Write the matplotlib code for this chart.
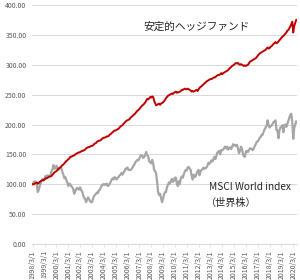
import matplotlib
matplotlib.use("Agg")
import matplotlib.pyplot as plt
import numpy as np

plt.rcParams['font.family'] = ['Noto Sans CJK JP', 'DejaVu Sans']

# Monthly data from 1998/3 to 2020/6
hedge = [
    100, 100, 101, 102, 103, 101, 102, 104, 105, 106, 107, 107,
    108, 110, 110, 111, 112, 113, 113, 114, 116, 118, 120, 121,
    122, 124, 126, 127, 128, 130, 132, 133, 135, 137, 139, 140,
    142, 143, 146, 146, 147, 148, 148, 150, 151, 152, 153, 153,
    154, 155, 156, 156, 157, 158, 160, 161, 162, 162, 163, 164,
    164, 165, 167, 168, 169, 171, 172, 173, 173, 174, 176, 177,
    178, 178, 179, 180, 180, 181, 183, 184, 186, 187, 189, 190,
    190, 191, 192, 193, 195, 197, 198, 199, 201, 203, 205, 206,
    207, 208, 209, 211, 213, 214, 216, 217, 219, 221, 223, 224,
    226, 228, 230, 232, 233, 235, 237, 240, 243, 242, 244, 246,
    245, 247, 246, 240, 236, 232, 233, 234, 235, 233, 235, 236,
    237, 239, 241, 244, 246, 248, 249, 250, 251, 252, 251, 253,
    254, 255, 253, 254, 254, 255, 256, 258, 258, 259, 260, 259,
    259, 260, 259, 258, 257, 255, 256, 255, 256, 257, 258, 256,
    259, 261, 263, 264, 266, 267, 269, 270, 272, 273, 274, 275,
    276, 276, 277, 278, 279, 279, 281, 282, 283, 283, 284, 286,
    284, 286, 287, 288, 289, 290, 291, 293, 295, 296, 298, 299,
    300, 302, 303, 302, 303, 301, 300, 301, 300, 299, 298, 299,
    298, 299, 300, 302, 305, 306, 307, 308, 309, 310, 311, 313,
    315, 317, 319, 320, 321, 322, 323, 324, 325, 327, 329, 327,
    328, 330, 331, 333, 335, 336, 338, 336, 337, 339, 341, 343,
    345, 347, 348, 350, 352, 354, 357, 358, 361, 364, 368, 372,
    354, 365, 370, 375,
]

msci = [
    100, 104, 105, 103, 101, 87, 90, 97, 102, 106, 109, 106,
    110, 114, 110, 115, 114, 113, 116, 122, 125, 132, 126, 127,
    131, 127, 124, 127, 129, 126, 120, 116, 110, 112, 107, 103,
    97, 101, 100, 97, 95, 92, 84, 88, 92, 94, 92, 91,
    95, 90, 88, 82, 77, 76, 70, 74, 78, 75, 72, 70,
    70, 75, 80, 82, 84, 86, 85, 90, 91, 95, 98, 100,
    99, 100, 99, 101, 97, 98, 101, 104, 108, 110, 108, 112,
    110, 108, 111, 112, 115, 116, 119, 116, 120, 122, 126, 126,
    128, 124, 124, 124, 125, 128, 131, 133, 137, 139, 141, 140,
    143, 147, 149, 147, 144, 146, 150, 154, 148, 147, 138, 137,
    135, 141, 135, 124, 122, 118, 104, 87, 82, 84, 77, 70,
    75, 83, 87, 87, 95, 99, 103, 101, 105, 109, 104, 106,
    111, 111, 101, 97, 105, 100, 110, 113, 111, 116, 121, 124,
    123, 128, 129, 126, 124, 114, 108, 116, 112, 113, 118, 122,
    124, 115, 121, 124, 125, 128, 126, 127, 128, 131, 136, 134,
    137, 140, 138, 141, 146, 142, 147, 153, 154, 156, 150, 157,
    157, 158, 161, 163, 160, 163, 158, 160, 162, 159, 162, 167,
    165, 166, 164, 166, 159, 152, 156, 163, 160, 150, 147, 146,
    155, 156, 154, 157, 160, 160, 159, 157, 160, 164, 167, 171,
    172, 174, 178, 179, 183, 183, 188, 192, 195, 198, 207, 199,
    195, 197, 198, 201, 204, 205, 207, 191, 190, 177, 190, 195,
    196, 199, 187, 199, 200, 196, 201, 206, 211, 216, 218, 204,
    176, 194, 200, 205,
]

tick_labels = [f"{y}/3/1" for y in range(1998, 2021)]
y_ticks = [0, 50, 100, 150, 200, 250, 300, 350, 400]

fig = plt.figure(figsize=(3.0, 2.8), dpi=100)
ax = fig.add_axes([32/300, 36/280, 265/300, 239/280])

x = np.arange(len(hedge))
ax.plot(x, msci, color='#a6a6a6', lw=1.6, solid_joinstyle='round', zorder=3)
ax.plot(x, hedge, color='#c00000', lw=1.4, solid_joinstyle='round', zorder=4)

ax.set_ylim(0, 400)
ax.set_xlim(-0.8, 267.8)
ax.set_yticks(y_ticks)
ax.set_yticklabels([f"{v:.2f}" for v in y_ticks])
ax.set_xticks(np.arange(0, len(hedge), 12))
ax.set_xticklabels(tick_labels, rotation=90)
ax.tick_params(axis='y', length=0, labelsize=5, colors='#595959', pad=4)
ax.tick_params(axis='x', length=2.5, width=0.5, color='#d9d9d9', labelsize=5, labelcolor='#595959', pad=2)
ax.grid(axis='y', color='#d9d9d9', lw=0.7)
ax.set_axisbelow(True)
for s in ['top', 'right', 'left']:
    ax.spines[s].set_visible(False)
ax.spines['bottom'].set_color('#d9d9d9')
ax.spines['bottom'].set_linewidth(0.7)

fig.text(143/300, 1 - 27/280, '安定的ヘッジファンド', fontsize=7.7, color='#262626', va='center', ha='left')
fig.text(209/300, 1 - 187/280, 'MSCI World index', fontsize=7.3, color='#262626', va='center', ha='left')
fig.text(206/300, 1 - 203/280, '（世界株）', fontsize=7.3, color='#262626', va='center', ha='left')

fig.savefig('out.png', dpi=100)
